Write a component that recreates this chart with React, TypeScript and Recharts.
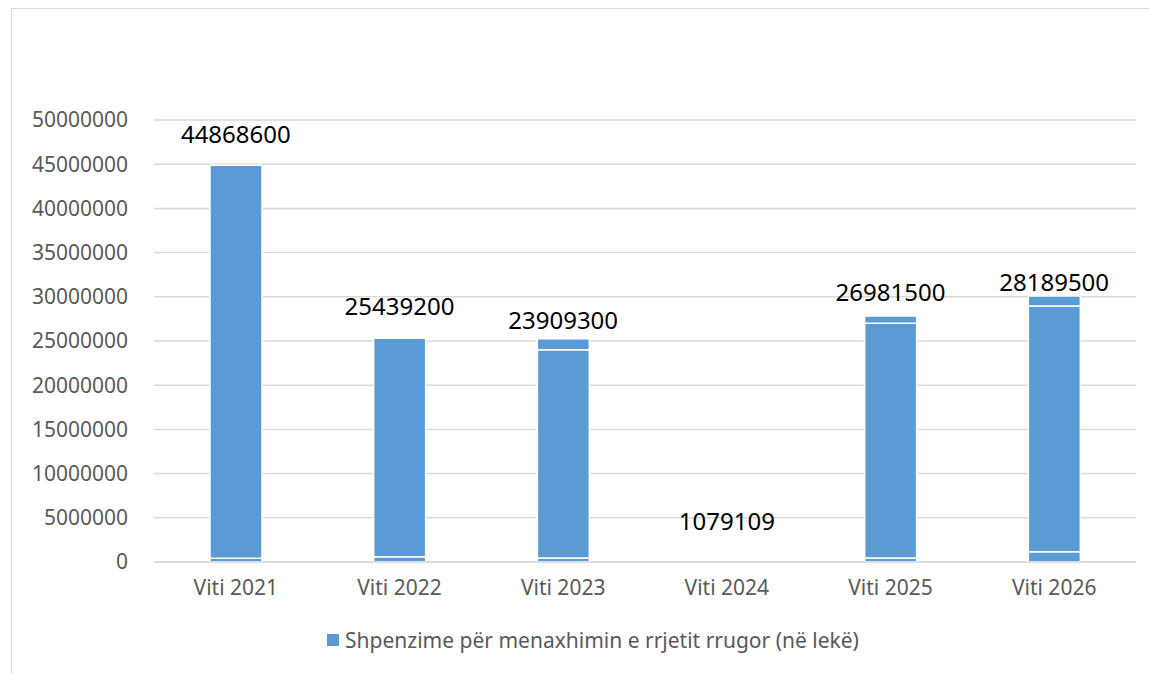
import {
  Bar,
  CartesianGrid,
  ComposedChart,
  LabelList,
  Legend,
  Line,
  XAxis,
  YAxis,
} from "recharts";

const vitet = ["Viti 2021", "Viti 2022", "Viti 2023", "Viti 2024", "Viti 2025", "Viti 2026"];
// pjesa e poshtme, kryesore dhe e sipërme e shtyllës (lexuar nga figura)
const pjesaPoshte = [420000, 600000, 450000, 0, 450000, 1150000];
const pjesaKryesore = [44450000, 24700000, 23550000, 0, 26560000, 27800000];
const pjesaSiper = [0, 0, 1250000, 0, 830000, 1130000];
// vlerat e shënuara mbi shtylla
const etiketat = [44868600, 25439200, 23909300, 1079109, 26981500, 28189500];
const yTicks = [0, 5000000, 10000000, 15000000, 20000000, 25000000, 30000000, 35000000, 40000000, 45000000, 50000000];

const BLU = "#5b9bd5";
const GRI = "#d9d9d9";
const TEKST = "#595959";
const FONT = "'Noto Sans', sans-serif";

const data = vitet.map((v, i) => ({
  viti: v,
  poshte: pjesaPoshte[i],
  kryesore: pjesaKryesore[i],
  siper: pjesaSiper[i],
  etiketa: etiketat[i],
}));

function LegjendaShpenzime() {
  return (
    <div
      style={{
        display: "flex",
        alignItems: "center",
        justifyContent: "center",
        gap: 6,
        paddingLeft: 12,
        fontFamily: FONT,
        fontSize: 21,
        color: TEKST,
      }}
    >
      <span style={{ width: 12, height: 12, background: BLU, display: "inline-block" }} />
      <span>Shpenzime për menaxhimin e rrjetit rrugor (në lekë)</span>
    </div>
  );
}

export default function App() {
  return (
    <div
      style={{
        position: "absolute",
        left: 11,
        top: 8,
        width: 1150,
        height: 680,
        border: `1.5px solid ${GRI}`,
        background: "#fff",
      }}
    >
      <ComposedChart
        width={1138}
        height={666}
        data={data}
        margin={{ top: 111, right: 14, bottom: 19, left: 26 }}
      >
        <CartesianGrid vertical={false} stroke={GRI} strokeWidth={1.5} />
        <XAxis
          dataKey="viti"
          height={64}
          axisLine={{ stroke: GRI, strokeWidth: 1.5 }}
          tickLine={false}
          tickMargin={12}
          tick={{ fill: TEKST, fontSize: 21, fontFamily: FONT }}
        />
        <YAxis
          width={116}
          domain={[0, 50000000]}
          ticks={yTicks}
          interval={0}
          axisLine={false}
          tickLine={false}
          tickMargin={20}
          tick={{ fill: TEKST, fontSize: 21, fontFamily: FONT }}
        />
        <Legend
          verticalAlign="bottom"
          height={30}
          content={() => <LegjendaShpenzime />}
        />
        <Bar
          dataKey="poshte"
          stackId="a"
          fill={BLU}
          stroke="#fff"
          strokeWidth={1.5}
          barSize={52}
          legendType="none"
          isAnimationActive={false}
        />
        <Bar
          dataKey="kryesore"
          stackId="a"
          fill={BLU}
          stroke="#fff"
          strokeWidth={1.5}
          barSize={52}
          isAnimationActive={false}
        />
        <Bar
          dataKey="siper"
          stackId="a"
          fill={BLU}
          stroke="#fff"
          strokeWidth={1.5}
          barSize={52}
          legendType="none"
          isAnimationActive={false}
        />
        <Line
          dataKey="etiketa"
          stroke="none"
          dot={false}
          activeDot={false}
          legendType="none"
          isAnimationActive={false}
        >
          <LabelList
            dataKey="etiketa"
            position="top"
            offset={22}
            fill="#000"
            fontSize={24}
            fontFamily={FONT}
          />
        </Line>
      </ComposedChart>
    </div>
  );
}
